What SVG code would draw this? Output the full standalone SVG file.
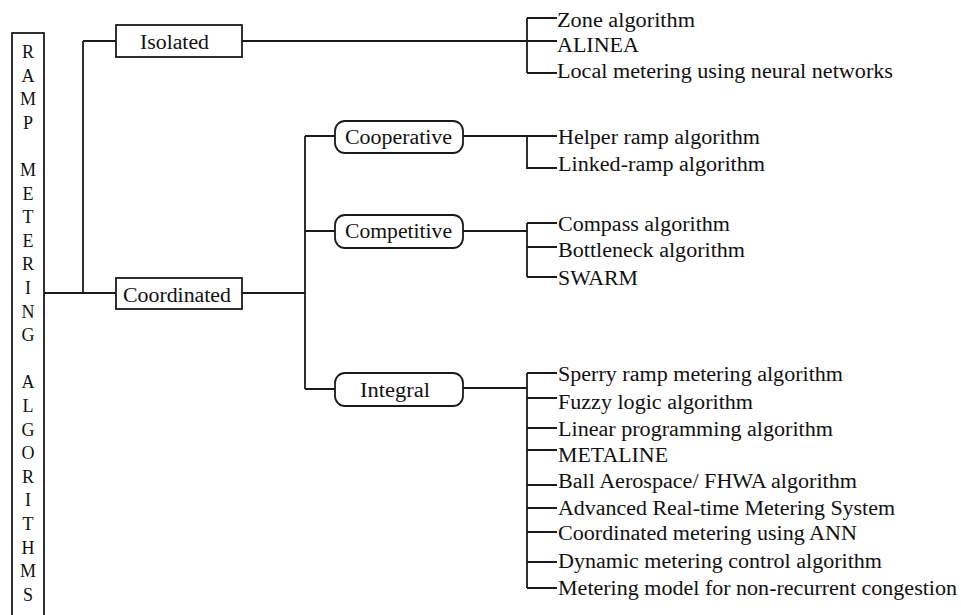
<svg xmlns="http://www.w3.org/2000/svg" width="961" height="615" viewBox="0 0 961 615">
<style>
.box{fill:#fff;stroke:#1a1a1a;stroke-width:1.8}
.ln{fill:none;stroke:#1a1a1a;stroke-width:1.8}
.t text{font-size:20px;fill:#111}
.v{font-size:18px;text-anchor:middle}
</style>
<rect width="961" height="615" fill="#fff"/>
<g id="connectors" class="ln">
<path d="M44,293H83M83,41V293M83,41H116M83,293H116"/>
<path d="M242,41H557M527,18V73M527,18H557M527,73H557"/>
<path d="M242,293H305M305,136V389M305,136H335M305,231H335M305,389H335"/>
<path d="M463,136H557M527,136V168H557"/>
<path d="M463,231H527M527,223V277M527,223H557M527,247H557M527,277H557"/>
<path d="M463,388H527M527,373V588M527,373H557M527,398H557M527,428H557M527,450H557M527,485H557M527,508H557M527,532H557M527,562H557M527,588H557"/>
</g>
<g class="t" font-family="'Liberation Serif', serif">
<g id="root">
<rect class="box" x="12" y="33" width="32" height="600"/>
<text class="v" style="font-size:18px"><tspan x="28" y="58">R</tspan><tspan x="28" y="81.6">A</tspan><tspan x="28" y="105.2">M</tspan><tspan x="28" y="128.8">P</tspan><tspan x="28" y="176">M</tspan><tspan x="28" y="199.6">E</tspan><tspan x="28" y="223.2">T</tspan><tspan x="28" y="246.8">E</tspan><tspan x="28" y="270.4">R</tspan><tspan x="28" y="294">I</tspan><tspan x="28" y="317.6">N</tspan><tspan x="28" y="341.2">G</tspan><tspan x="28" y="388.4">A</tspan><tspan x="28" y="412">L</tspan><tspan x="28" y="435.6">G</tspan><tspan x="28" y="459.2">O</tspan><tspan x="28" y="482.8">R</tspan><tspan x="28" y="506.4">I</tspan><tspan x="28" y="530">T</tspan><tspan x="28" y="553.6">H</tspan><tspan x="28" y="577.2">M</tspan><tspan x="28" y="600.8">S</tspan></text>
</g>
<g id="isolated">
<rect class="box" x="116" y="25" width="126" height="32"/>
<text x="140" y="49" textLength="69" lengthAdjust="spacingAndGlyphs">Isolated</text>
</g>
<g id="coordinated">
<rect class="box" x="116" y="278" width="126" height="31"/>
<text x="123" y="302" textLength="108" lengthAdjust="spacingAndGlyphs">Coordinated</text>
</g>
<g id="cooperative">
<rect class="box" x="335" y="121" width="128" height="32" rx="10"/>
<text x="345" y="144" textLength="107" lengthAdjust="spacingAndGlyphs">Cooperative</text>
</g>
<g id="competitive">
<rect class="box" x="335" y="215" width="128" height="33" rx="10"/>
<text x="345" y="238" textLength="107" lengthAdjust="spacingAndGlyphs">Competitive</text>
</g>
<g id="integral">
<rect class="box" x="335" y="373" width="128" height="33" rx="10"/>
<text x="360" y="397" textLength="70" lengthAdjust="spacingAndGlyphs">Integral</text>
</g>
<g id="isolated-list">
<text x="557" y="27" textLength="138" lengthAdjust="spacingAndGlyphs">Zone algorithm</text>
<text x="557" y="52" textLength="82" lengthAdjust="spacingAndGlyphs">ALINEA</text>
<text x="557" y="78" textLength="336" lengthAdjust="spacingAndGlyphs">Local metering using neural networks</text>
</g>
<g id="cooperative-list">
<text x="558" y="144" textLength="202" lengthAdjust="spacingAndGlyphs">Helper ramp algorithm</text>
<text x="558" y="171" textLength="207" lengthAdjust="spacingAndGlyphs">Linked-ramp algorithm</text>
</g>
<g id="competitive-list">
<text x="558" y="231" textLength="172" lengthAdjust="spacingAndGlyphs">Compass algorithm</text>
<text x="558" y="257" textLength="187" lengthAdjust="spacingAndGlyphs">Bottleneck algorithm</text>
<text x="558" y="285" textLength="80" lengthAdjust="spacingAndGlyphs">SWARM</text>
</g>
<g id="integral-list">
<text x="558" y="381" textLength="285" lengthAdjust="spacingAndGlyphs">Sperry ramp metering algorithm</text>
<text x="558" y="409" textLength="195" lengthAdjust="spacingAndGlyphs">Fuzzy logic algorithm</text>
<text x="558" y="436" textLength="275" lengthAdjust="spacingAndGlyphs">Linear programming algorithm</text>
<text x="558" y="462" textLength="110" lengthAdjust="spacingAndGlyphs">METALINE</text>
<text x="558" y="488" textLength="299" lengthAdjust="spacingAndGlyphs">Ball Aerospace/ FHWA algorithm</text>
<text x="558" y="515" textLength="337" lengthAdjust="spacingAndGlyphs">Advanced Real-time Metering System</text>
<text x="558" y="540" textLength="299" lengthAdjust="spacingAndGlyphs">Coordinated metering using ANN</text>
<text x="558" y="568" textLength="324" lengthAdjust="spacingAndGlyphs">Dynamic metering control algorithm</text>
<text x="558" y="595" textLength="399" lengthAdjust="spacingAndGlyphs">Metering model for non-recurrent congestion</text>
</g>
</g>
</svg>
